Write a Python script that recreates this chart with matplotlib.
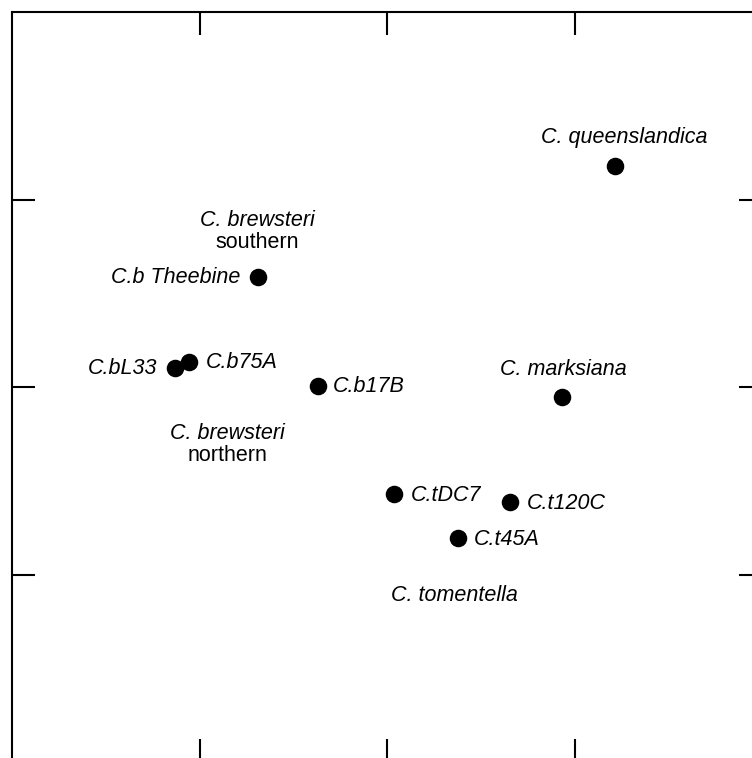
import matplotlib.pyplot as plt

plt.rcParams['font.family'] = ['Liberation Sans', 'DejaVu Sans']

# ordination scores for each accession
names = ['C. queenslandica', 'C.b Theebine', 'C.bL33', 'C.b75A', 'C.b17B',
         'C. marksiana', 'C.tDC7', 'C.t120C', 'C.t45A']
dim1 = [1.216, -0.688, -1.131, -1.056, -0.368, 0.933, 0.037, 0.656, 0.379]
dim2 = [1.179, 0.587, 0.101, 0.133, 0.005, -0.053, -0.571, -0.613, -0.805]

# label placement relative to each point (offset in points, alignment)
label_pos = {
    'C. queenslandica': (6.5, 20.5, 'center'),
    'C.b Theebine': (-13, -0.5, 'right'),
    'C.bL33': (-13, -0.5, 'right'),
    'C.b75A': (12, -0.5, 'left'),
    'C.b17B': (11, -0.5, 'left'),
    'C. marksiana': (1, 19.5, 'center'),
    'C.tDC7': (12.5, -1.2, 'left'),
    'C.t120C': (12, -1.2, 'left'),
    'C.t45A': (11, -1.2, 'left'),
}

# group captions: (x, y, italic line, plain line)
groups = [
    (-0.69, 0.89, 'C. brewsteri', 'southern'),
    (-0.85, -0.25, 'C. brewsteri', 'northern'),
    (0.36, -1.11, 'C. tomentella', ''),
]

fs = 15.5

fig = plt.figure(figsize=(7.52, 7.58), dpi=100)
ax = fig.add_axes([12 / 752, -4 / 758, 750 / 752, 750 / 758])

ax.scatter(dim1, dim2, s=135, color='black', zorder=3)

for n, x, y in zip(names, dim1, dim2):
    dx, dy, ha = label_pos[n]
    ax.annotate(n, (x, y), xytext=(dx, dy), textcoords='offset points',
                ha=ha, va='center', fontsize=fs, style='italic')

for gx, gy, top, bottom in groups:
    ax.text(gx, gy, top, ha='center', va='center', fontsize=fs, style='italic')
    if bottom:
        ax.text(gx, gy - 0.117, bottom, ha='center', va='center', fontsize=fs)

ax.set_xlim(-2, 2)
ax.set_ylim(-2, 2)
ax.set_xticks([-1, 0, 1])
ax.set_yticks([-1, 0, 1])
ax.tick_params(direction='in', length=16.5, width=1.5, top=True, right=True,
               labelbottom=False, labelleft=False)
for s in ax.spines.values():
    s.set_linewidth(1.5)

plt.savefig('out.png', dpi=100)
